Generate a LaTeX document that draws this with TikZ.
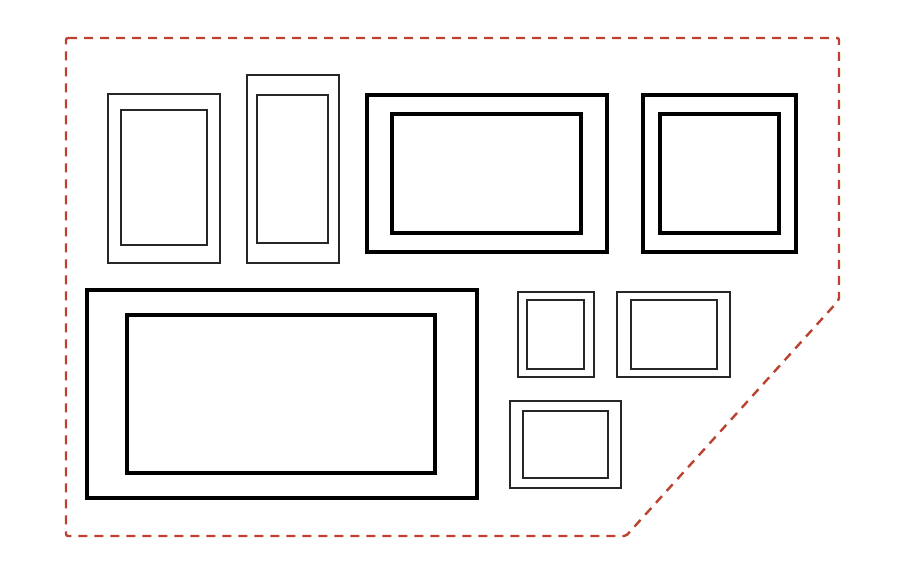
\documentclass[tikz,border=0pt]{standalone}
\definecolor{cutred}{RGB}{188,66,48}
\tikzset{
  thinframe/.style={draw=black!85,line width=2pt},
  thickframe/.style={draw=black,line width=3.1pt},
  outline/.style={draw=cutred,line width=2.4pt,dash pattern=on 9pt off 7pt,rounded corners=2pt}
}
\begin{document}
\begin{tikzpicture}[x=1pt,y=-1pt]
\useasboundingbox (0,0) rectangle (900,568);
\def\sheet{(66,38) -- (839,38) -- (839,300) -- (626,536) -- (66,536) -- cycle}

\draw[outline] \sheet;

% upper row
\draw[thinframe] (108,94) rectangle (220,263);
\draw[thinframe] (121,110) rectangle (207,245);
\draw[thinframe] (247,75) rectangle (339,263);
\draw[thinframe] (257,95) rectangle (328,243);
\draw[thickframe] (367,95) rectangle (607,252);
\draw[thickframe] (392,114) rectangle (581,233);
\draw[thickframe] (643,95) rectangle (796,252);
\draw[thickframe] (660,114) rectangle (779,233);

% lower part
\draw[thickframe] (87,290) rectangle (477,498);
\draw[thickframe] (127,315) rectangle (435,473);
\draw[thinframe] (518,292) rectangle (594,377);
\draw[thinframe] (527,300) rectangle (584,369);
\draw[thinframe] (617,292) rectangle (730,377);
\draw[thinframe] (631,300) rectangle (717,369);
\draw[thinframe] (510,401) rectangle (621,488);
\draw[thinframe] (523,411) rectangle (608,478);
\end{tikzpicture}
\end{document}
